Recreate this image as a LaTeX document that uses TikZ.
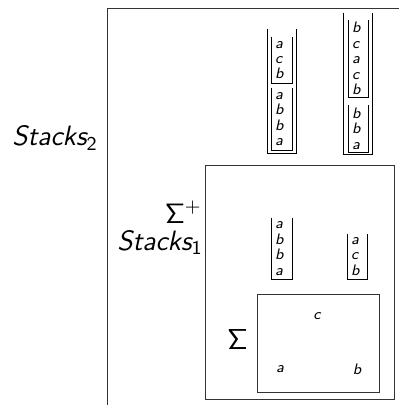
\RequirePackage{fix-cm}
\documentclass[tikz,border=0pt]{standalone}
\begin{document}
\begin{tikzpicture}[x=0.5pt,y=-0.5pt,
  region/.style={draw=black!80, line width=0.6pt, inner sep=0pt, anchor=north west},
  letters/.style={font=\fontsize{7.6}{7.7}\selectfont\sffamily\itshape},
  stk/.style={letters, align=left, inner ysep=0pt, inner xsep=1.6pt, text width=6.8pt},
  narrowstk/.style={stk, text width=6.3pt},
  stkouter/.style={inner sep=0pt, minimum width=14pt},
  wall/.style={draw=black, line width=0.45pt},
  biglbl/.style={inner sep=0pt, font=\fontsize{13.5}{15}\selectfont\sffamily\itshape},
  lvllbl/.style={inner sep=0pt, font=\fontsize{14}{16}\selectfont\sffamily\itshape},
  sigmalbl/.style={inner sep=0pt, font=\fontsize{14.4}{16}\selectfont}
]
\useasboundingbox (0,0) rectangle (399,405);
\clip (0,0) rectangle (399,405);

% nested regions
\node[region, minimum width=150pt, minimum height=205pt] (lvltwo) at (107,8) {};
\node[region, minimum width=94.5pt, minimum height=117pt] (lvlone) at (205,165) {};
\node[region, minimum width=61pt, minimum height=49pt] (alpha) at (257,294) {};

% region labels
\node[lvllbl, anchor=base east] (stackstwo) at (98,146) {Stacks$_{\mathsf{2}}$};
\node[lvllbl, anchor=base east, font=\fontsize{14}{16}\selectfont] (sigplus) at (202,223) {$\mathsf{\Sigma}^{+}$};
\node[lvllbl, anchor=base east] (stacksone) at (203,250) {Stacks$_{\mathsf{1}}$};
\node[sigmalbl, anchor=base] (sigma) at (237.5,349) {$\mathsf{\Sigma}$};

% alphabet symbols
\node[letters] (symc) at (317,316) {c};
\node[letters] (syma) at (280,369) {a};
\node[letters] (symb) at (357,369) {b};

% stacks of symbols
\node[stk, minimum height=30.5pt] (sone) at (282,248.5) {a\\b\\b\\a};
\node[narrowstk, minimum height=22.5pt] (stwo) at (357.5,256.5) {a\\c\\b};

% stacks of stacks
\node[stkouter, minimum height=62pt] (touter) at (282,91) {};
\node[stk, minimum height=23pt] (tone) at (282,60) {a\\c\\b};
\node[stk, minimum height=31pt] (ttwo) at (282,119) {a\\b\\b\\a};

\node[stkouter, minimum height=70.5pt] (uouter) at (358,83.5) {};
\node[narrowstk, minimum height=38.5pt] (uone) at (358.5,58.5) {b\\c\\a\\c\\b};
\node[narrowstk, minimum height=23.5pt] (utwo) at (358.5,128.5) {b\\b\\a};

% open-topped walls around every stack
\foreach \s in {sone,stwo,touter,tone,ttwo,uouter,uone,utwo}
  \draw[wall] (\s.north west) |- (\s.south east) -- (\s.north east);
\end{tikzpicture}
\end{document}
